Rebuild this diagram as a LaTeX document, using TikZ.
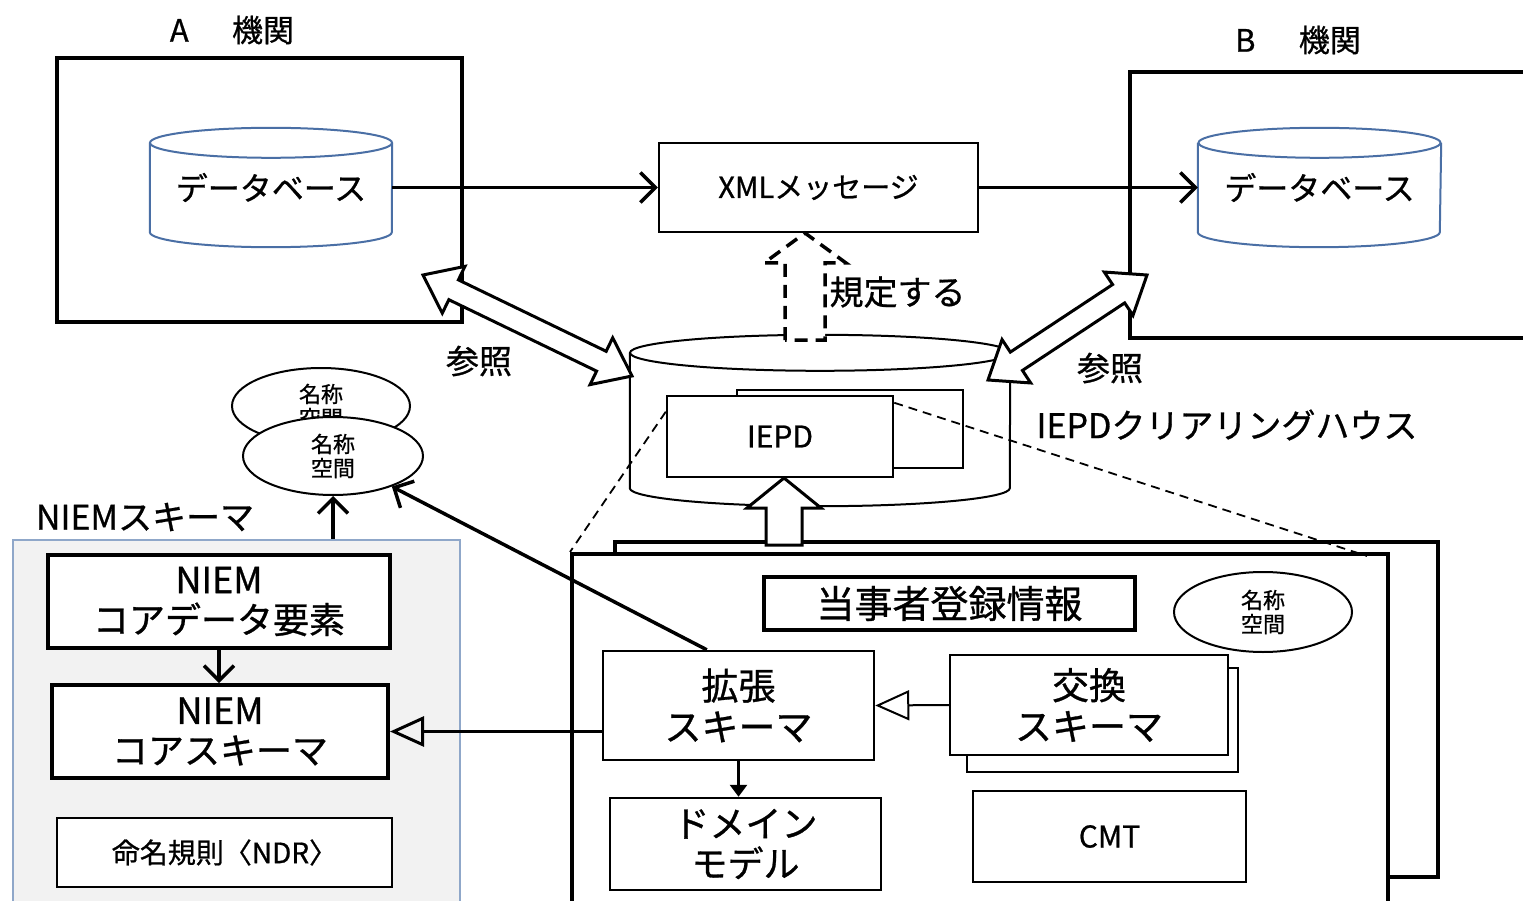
\documentclass[tikz,border=0pt]{standalone}
\usepackage{fontspec}
\setmainfont{Noto Sans CJK JP}[FakeBold=0.8]
\usetikzlibrary{arrows.meta,shapes.geometric,calc}

\definecolor{dbblue}{HTML}{4A6FA5}
\definecolor{niemblue}{HTML}{8FA7C9}
\definecolor{niemgray}{HTML}{F2F2F2}

\newcommand{\sz}[2]{\fontsize{#1pt}{#2pt}\selectfont}

% cylinder round a node: node, x radius, y radius, style
\newcommand{\drum}[4]{%
	\draw[#4] (#1.north west) -- (#1.south west)
		arc[start angle=180, end angle=360, x radius=#2, y radius=#3]
		-- (#1.north east);
	\draw[#4] (#1.north) ellipse [x radius=#2, y radius=#3];
}

% block arrow: base, tip, shaft, head, head length, style
\newcommand{\blockup}[6]{%
	\coordinate (bq) at ($(#2)!#5!(#1)$);
	\draw[#6] ($(#1)!#3!90:(#2)$) -- ($(bq)!#3!-90:(#1)$) -- ($(bq)!#4!-90:(#1)$) -- (#2)
		-- ($(bq)!#4!90:(#1)$) -- ($(bq)!#3!90:(#1)$) -- ($(#1)!#3!-90:(#2)$) -- cycle;
}

% double block arrow: end, end, shaft, head, head length, style
\newcommand{\blockboth}[6]{%
	\coordinate (bp) at ($(#1)!#5!(#2)$);
	\coordinate (bq) at ($(#2)!#5!(#1)$);
	\draw[#6] (#1) -- ($(bp)!#4!90:(#2)$) -- ($(bp)!#3!90:(#2)$) -- ($(bq)!#3!-90:(#1)$) -- ($(bq)!#4!-90:(#1)$) -- (#2)
		-- ($(bq)!#4!90:(#1)$) -- ($(bq)!#3!90:(#1)$) -- ($(bp)!#3!-90:(#2)$) -- ($(bp)!#4!-90:(#2)$) -- cycle;
}

\tikzset{
	box/.style={draw, line width=2.5pt, fill=white, inner sep=0pt, align=center},
	heavybox/.style={box, line width=4pt},
	dbbody/.style={inner sep=0pt, font=\sz{32}{36}},
	dbline/.style={draw=dbblue, line width=2pt},
	nsoval/.style={ellipse, draw, line width=2pt, fill=white, inner sep=0pt, align=center, font=\sz{22}{24}},
	flow/.style={line width=3.5pt, -{Straight Barb[length=15pt, width=30pt]}},
	inherit/.style={line width=3pt, -{Triangle[open, length=34pt, width=30pt]}},
	link/.style={line width=1.8pt, dash pattern=on 9pt off 6pt},
	refarrow/.style={draw, line width=3pt, fill=white},
	defarrow/.style={draw, line width=3.5pt, dash pattern=on 13pt off 8pt, fill=white},
}

\begin{document}
\begin{tikzpicture}[x=1pt, y=1pt]

	\useasboundingbox (0,0) rectangle (1523,-901);

	% organisations
	\node[heavybox, minimum width=405, minimum height=264] (orgA) at (259.5,-190) {};
	\node[heavybox, minimum width=430, minimum height=266] (orgB) at (1345,-205) {};
	\node[font=\sz{31}{36}] (labA) at (232,-30) {A\hspace{1.4em}機関};
	\node[font=\sz{31}{36}] (labB) at (1298,-40) {B\hspace{1.4em}機関};

	\node[dbbody, minimum width=242, minimum height=89] (dbA) at (271,-187.5) {データベース};
	\node[dbbody, minimum width=243, minimum height=89] (dbB) at (1319.5,-187.5) {データベース};
	\foreach \n in {dbA, dbB}
	{
		\drum{\n}{121}{15}{dbline}
	};

	\node[box, minimum width=319, minimum height=89, font=\sz{29}{32}] (xml) at (818.5,-187.5) {XMLメッセージ};

	\draw[flow] (dbA.east) -- (xml.west);
	\draw[flow] (xml.east) -- (dbB.west);

	% clearing house
	\node[inner sep=0pt, minimum width=380, minimum height=135] (ch) at (820,-420.5) {};
	\drum{ch}{190}{18}{line width=2pt}
	\node[font=\sz{34}{38}, anchor=west] (chlab) at (1033,-425) {IEPDクリアリングハウス};
	\node[box, minimum width=226, minimum height=78] (iepdB) at (850,-429) {};
	\node[box, minimum width=226, minimum height=81, font=\sz{30}{34}] (iepd) at (780,-436.5) {IEPD};

	\coordinate (refA) at (423,-275);
	\coordinate (refA2) at (632,-376);
	\coordinate (refB) at (1147,-275);
	\coordinate (refB2) at (988,-380);
	\blockboth{refA}{refA2}{11pt}{26pt}{34pt}{refarrow}
	\blockboth{refB}{refB2}{11pt}{26pt}{34pt}{refarrow}
	\node[font=\sz{33}{36}] (reflabA) at (479,-361) {参照};
	\node[font=\sz{33}{36}] (reflabB) at (1110,-368) {参照};

	\coordinate (regBase) at (805,-340);
	\coordinate (regTip) at (805,-233);
	\blockup{regBase}{regTip}{20pt}{41pt}{30pt}{defarrow}
	\node[font=\sz{34}{38}, anchor=west] (reglab) at (826,-292) {規定する};

	% exchange package
	\node[heavybox, minimum width=823, minimum height=335] (pkgB) at (1026.5,-709.5) {};
	\coordinate (upBase) at (784,-545);
	\coordinate (upTip) at (784,-478);
	\blockup{upBase}{upTip}{18pt}{37pt}{30pt}{refarrow}
	\node[heavybox, minimum width=816, minimum height=351] (pkg) at (980,-729.5) {};

	\draw[link] ($(iepd.north west)+(0,-17)$) -- (pkg.north west);
	\draw[link] ($(iepd.north east)+(0,-8)$) -- ($(pkg.north east)+(-23,-4)$);

	\node[heavybox, minimum width=371, minimum height=53, font=\sz{38}{42}] (party) at (949.5,-603.5) {当事者登録情報};
	\node[nsoval, minimum width=178, minimum height=80] (nsR) at (1263,-612) {名称\\空間};
	\node[box, minimum width=271, minimum height=109, font=\sz{37}{41}] (ext) at (738.5,-705.5) {拡張\\スキーマ};
	\node[box, minimum width=271, minimum height=104] (exchB) at (1102.5,-720) {};
	\node[box, minimum width=278, minimum height=100, font=\sz{37}{41}] (exch) at (1089,-705) {交換\\スキーマ};
	\node[box, minimum width=271, minimum height=92, font=\sz{36}{40}] (dom) at (745.5,-844) {ドメイン\\モデル};
	\node[box, minimum width=273, minimum height=91, font=\sz{30}{34}] (cmt) at (1109.5,-836.5) {CMT};

	\draw[inherit, line width=2pt] (exch.west) -- (ext.east);
	\draw[line width=3.5pt, -{Triangle[length=12pt, width=17pt]}] (ext.south) -- (ext.south |- dom.north);

	% NIEM schema
	\node[draw=niemblue, fill=niemgray, line width=2pt, minimum width=447, minimum height=380] (niem) at (236.5,-730) {};
	\node[font=\sz{34}{38}] (niemlab) at (145,-517) {NIEMスキーマ};
	\node[heavybox, minimum width=342, minimum height=93, font=\sz{36}{40}] (core) at (219,-601.5) {NIEM\\コアデータ要素};
	\node[heavybox, minimum width=336, minimum height=93, font=\sz{36}{40}] (coresch) at (220,-731.5) {NIEM\\コアスキーマ};
	\node[box, minimum width=335, minimum height=69, font=\sz{28}{32}] (ndr) at (224.5,-852.5) {命名規則〈NDR〉};

	\draw[flow] (core.south) -- (core.south |- coresch.north);
	\draw[inherit] (ext.west |- coresch.east) -- (coresch.east);

	\node[nsoval, minimum width=178, minimum height=76] (nsBack) at (321,-406) {名称\\空間};
	\node[nsoval, minimum width=180, minimum height=78] (nsFront) at (333,-456) {名称\\空間};

	\draw[flow] (niem.north -| nsFront.south) -- (nsFront.south);
	\draw[flow] ($(ext.north west)+(105,0)$) -- (nsFront);

\end{tikzpicture}
\end{document}
